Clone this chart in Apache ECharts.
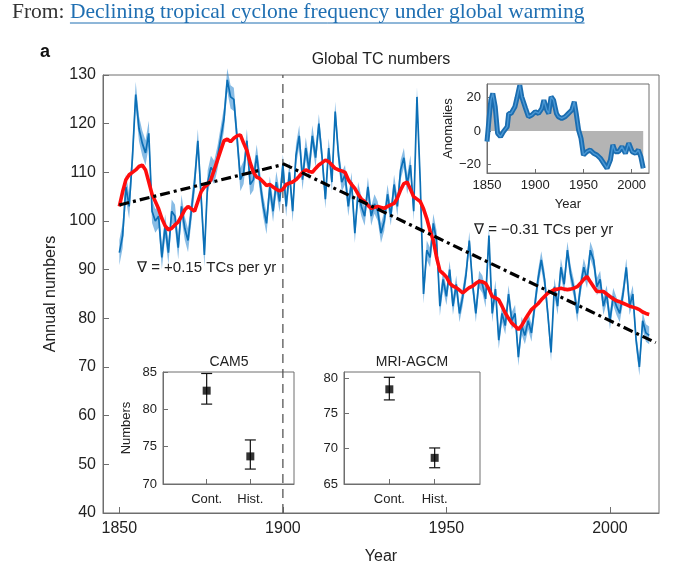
<!DOCTYPE html>
<html>
<head>
<meta charset="utf-8">
<script src="https://cdn.jsdelivr.net/npm/echarts@6/dist/echarts.min.js"></script>
<style>
html,body{margin:0;padding:0;background:#fff;}
#chart{width:680px;height:570px;}
</style>
</head>
<body>
<div id="chart"></div>
<script>
// ---------------- DATA ----------------
const startYear = 1850;
const tcAnnual = [
  93.5, 97, 107, 103, 113, 126, 119, 116, 114, 118,
  102, 100, 101, 92.5, 99, 93.5, 102, 101, 94.5, 103,
  98.5, 96, 102, 108, 116.5, 105, 93, 108, 111, 110,
  113, 117, 121, 129, 125.5, 125, 117, 108.5, 110, 116.5,
  107.5, 108.5, 113.5, 108, 103, 99.5, 107, 102, 108, 104,
  111.5, 103, 110, 102, 113.5, 117.5, 108.5, 115, 110.5, 117.5,
  113, 120, 113, 104.5, 115, 108, 122.5, 113.5, 108, 109.5,
  103, 108, 97.5, 106, 103, 101, 107, 101, 103.5, 102,
  97.5, 100, 105.5, 101, 107.5, 103, 110.5, 113, 107.5, 111.5,
  102, 125.5, 108, 85, 94, 92.5, 99.5, 96, 82.5, 88,
  84.5, 90, 82.5, 87, 81, 84.5, 89, 96, 87, 81,
  88, 87, 84, 97, 81, 86, 75.5, 81, 78.5, 85,
  79.5, 81, 72, 78.5, 76.5, 79.5, 77, 82.5, 88, 92,
  88, 81, 73, 86.5, 82.5, 90.5, 87, 94, 89, 86,
  81, 86.5, 90.5, 88, 94, 92, 86.5, 88, 82.5, 85,
  79.5, 84.5, 82.5, 81, 85, 90.5, 82.5, 85, 75.5, 70,
  79.5, 77, 76.5
];
const tcSmoothed = [
  103, 106, 108.5, 109.5, 110, 110.5, 111.2, 111.5, 110.5, 108,
  105.5, 104, 102.5, 100.5, 99, 98.2, 98.5, 99.2, 99.8, 101,
  102.3, 103, 102.5, 102, 104, 106, 107, 107.5, 108.5, 110.5,
  112.5, 114.5, 116.5, 116.8, 116.3, 117, 117.5, 117.7, 116, 114.5,
  112, 110, 109, 108.7, 108, 107.3, 107.5, 107, 106.5, 106.2,
  106.5, 107.5, 107.8, 108, 108.5, 109.2, 110, 110.5, 110.2, 110,
  110.8, 111.5, 112, 112.5, 112.2, 111.5, 110.8, 110.5, 110.3, 110,
  108.5, 107.5, 106.7, 105.5, 104.5, 104, 103.2, 102.6, 102.8, 103,
  102.8, 102.6, 103, 103.3, 103.6, 104.7, 106.4, 107.7, 108, 106.5,
  105, 104.5, 104, 102.5, 100.5, 98, 96, 92.5, 89.8, 89.2,
  88.5, 87.2, 86.6, 86.3, 85.8, 85.2, 85.8, 86.3, 86.6, 87.2,
  87.6, 87.5, 87.2, 86, 84.5, 84.2, 83.8, 82.5, 81.1, 80,
  79, 78.4, 77.7, 78.5, 79.7, 80.8, 81.8, 82.4, 83, 83.8,
  84.5, 85.2, 85.5, 85.9, 86, 86.2, 86, 85.9, 86, 86.2,
  86.5, 87.2, 88, 88.6, 87.5, 86.5, 85.5, 85.5, 85.5, 85,
  84.5, 84, 83.6, 83.4, 83.1, 82.8, 82.5, 82.3, 82.1, 81.8,
  81.3, 81, 80.8
];
// half width of the ensemble shading, read per decade (1850s ... 2010s)
const bandHalfWidthByDecade = [2.6, 2.4, 2.4, 2.4, 2.2, 2.2, 2.0, 2.0, 2.0, 2.0, 1.8, 1.8, 1.8, 1.8, 1.8, 1.8, 1.8];

const trendEarly = [[1850, 103.3], [1900, 111.6]];
const trendLate = [[1900, 111.8], [2014, 75.0]];
const dividerYear = 1900;
const slopeTexts = ['\u2207 = +0.15 TCs per yr', '\u2207 = \u22120.31 TCs per yr'];

const mainXTicks = [1850, 1900, 1950, 2000];
const mainYRange = [40, 130];

const anomYears = [1850, 1852, 1854, 1856, 1858.5, 1861, 1864, 1867, 1871, 1872.5,
  1875, 1877, 1879, 1881, 1884, 1886, 1890, 1893, 1896.5, 1900,
  1903.5, 1907, 1909, 1912, 1914, 1916.5, 1919, 1922, 1924, 1927.5,
  1931, 1934.5, 1938, 1940.5, 1942.5, 1945, 1947.5, 1950, 1953.5, 1957,
  1960.5, 1964, 1967.5, 1971, 1974.5, 1978, 1980.5, 1983, 1986.5, 1990,
  1993.5, 1997, 2000.5, 2004, 2007, 2009.5, 2012];
const anomValues = [-6.3, 6.5, 18.4, 22.4, 14.5, -1.4, -3.4, -0.4, 2.6, 10.5,
  10.5, 12.5, 14.5, 19.4, 27.3, 20.4, 13.5, 8.5, 9.5, 11.5,
  10.5, 13.5, 18.4, 12.5, 10.5, 20.4, 18.4, 10.5, 8.5, 7.5,
  8.5, 10.5, 12.5, 17.4, 10.5, 0.6, -4.4, -14.3, -12.3, -11.3,
  -13.3, -14.3, -16.2, -19.2, -22.2, -17.2, -8.3, -12.3, -12.3, -9.3,
  -13.3, -7.3, -12.3, -13.3, -11.3, -15.2, -22.2];
const anomYTicks = [-20, 0, 20];

const groupLabels = ['Cont.', 'Hist.'];
const groupPos = [1, 2];
const cam5Mean = [82.5, 73.7];
const cam5Low = [80.7, 72.0];
const cam5High = [84.8, 75.9];
const mriMean = [78.4, 68.7];
const mriLow = [76.9, 67.3];
const mriHigh = [80.1, 70.1];

// ---------------- BUILD ----------------
const years = tcAnnual.map((_, i) => startYear + i);
const hw = years.map(y => bandHalfWidthByDecade[Math.floor((y - startYear) / 10)]);
const annualPts = years.map((y, i) => [y, tcAnnual[i]]);
const smoothPts = years.map((y, i) => [y, tcSmoothed[i]]);
const anomPts = anomYears.map((y, i) => [y, anomValues[i]]);

const FONT = '"Liberation Sans", Arial, Helvetica, sans-serif';
const AX = '#6e6e6e';
const TXT = '#222';
const fmtNum = v => String(v).replace('-', '\u2212');

function errRender(params, api) {
  const x = api.value(0), lo = api.value(1), hi = api.value(2);
  const pHi = api.coord([x, hi]), pLo = api.coord([x, lo]);
  const w = 5.5;
  const st = { stroke: '#111', lineWidth: 1.2 };
  return {
    type: 'group',
    children: [
      { type: 'line', shape: { x1: pHi[0], y1: pHi[1], x2: pLo[0], y2: pLo[1] }, style: st },
      { type: 'line', shape: { x1: pHi[0] - w, y1: pHi[1], x2: pHi[0] + w, y2: pHi[1] }, style: st },
      { type: 'line', shape: { x1: pLo[0] - w, y1: pLo[1], x2: pLo[0] + w, y2: pLo[1] }, style: st }
    ]
  };
}

function bandRender(params, api) {
  const pts = [];
  for (let i = 0; i < years.length; i++) pts.push(api.coord([years[i], tcAnnual[i] + hw[i]]));
  for (let i = years.length - 1; i >= 0; i--) pts.push(api.coord([years[i], tcAnnual[i] - hw[i]]));
  return { type: 'polygon', shape: { points: pts }, style: { fill: 'rgba(38,133,208,0.55)' } };
}

function insetX(gridIndex) {
  return {
    type: 'value', gridIndex: gridIndex, min: 0, max: 3,
    axisLine: { show: true, onZero: false, lineStyle: { color: AX } },
    axisTick: { show: true, inside: true, length: 5, customValues: groupPos, lineStyle: { color: AX } },
    axisLabel: { customValues: groupPos, formatter: v => groupLabels[groupPos.indexOf(v)], color: TXT, fontFamily: FONT, fontSize: 13, margin: 9 },
    splitLine: { show: false }
  };
}
function insetY(gridIndex, min, max, ticks, name) {
  const o = {
    type: 'value', gridIndex: gridIndex, min: min, max: max,
    axisLine: { show: true, onZero: false, lineStyle: { color: AX } },
    axisTick: { show: true, inside: true, length: 5, customValues: ticks, lineStyle: { color: AX } },
    axisLabel: { customValues: ticks, formatter: fmtNum, color: TXT, fontFamily: FONT, fontSize: 13, margin: 6 },
    splitLine: { show: false }
  };
  if (name) {
    o.name = name; o.nameLocation = 'middle'; o.nameGap = 30;
    o.nameTextStyle = { color: TXT, fontFamily: FONT, fontSize: 13 };
  }
  return o;
}

// measure header widths for the underline
const mctx = document.createElement('canvas').getContext('2d');
const headFont = '21.5px "Liberation Serif", "DejaVu Serif", serif';
mctx.font = headFont;
const fromText = 'From: ';
const linkText = 'Declining tropical cyclone frequency under global warming';
const fromW = mctx.measureText(fromText).width;
const linkW = mctx.measureText(linkText).width;
const headX = 12;

const chart = echarts.init(document.getElementById('chart'), null, { renderer: 'canvas' });
const option = {
  backgroundColor: '#fff',
  animation: false,
  grid: [
    { left: 103, top: 75, width: 556, height: 438, show: true, borderColor: AX, borderWidth: 1, backgroundColor: 'transparent' },
    { left: 487, top: 84, width: 162, height: 89, show: true, borderColor: AX, borderWidth: 1, backgroundColor: '#fff' },
    { left: 163, top: 372, width: 131, height: 112, show: true, borderColor: AX, borderWidth: 1, backgroundColor: 'transparent' },
    { left: 344, top: 372, width: 136, height: 112, show: true, borderColor: AX, borderWidth: 1, backgroundColor: 'transparent' }
  ],
  xAxis: [
    {
      type: 'value', gridIndex: 0, min: 1845, max: 2015,
      axisLine: { show: true, onZero: false, lineStyle: { color: AX } },
      axisTick: { show: true, inside: true, length: 6, customValues: mainXTicks, lineStyle: { color: AX } },
      axisLabel: { customValues: mainXTicks, formatter: fmtNum, color: TXT, fontFamily: FONT, fontSize: 16, margin: 8 },
      splitLine: { show: false },
      name: 'Year', nameLocation: 'middle', nameGap: 36,
      nameTextStyle: { color: TXT, fontFamily: FONT, fontSize: 16 }
    },
    {
      type: 'value', gridIndex: 1, min: 1850, max: 2018,
      axisLine: { show: true, onZero: false, lineStyle: { color: AX } },
      axisTick: { show: true, inside: true, length: 4, customValues: mainXTicks, lineStyle: { color: AX } },
      axisLabel: { customValues: mainXTicks, formatter: fmtNum, color: TXT, fontFamily: FONT, fontSize: 13, margin: 6 },
      splitLine: { show: false },
      name: 'Year', nameLocation: 'middle', nameGap: 25,
      nameTextStyle: { color: TXT, fontFamily: FONT, fontSize: 13 }
    },
    insetX(2),
    insetX(3)
  ],
  yAxis: [
    {
      type: 'value', gridIndex: 0, min: mainYRange[0], max: mainYRange[1], interval: 10,
      axisLine: { show: true, onZero: false, lineStyle: { color: AX } },
      axisTick: { show: true, inside: true, length: 6, lineStyle: { color: AX } },
      axisLabel: { formatter: fmtNum, color: TXT, fontFamily: FONT, fontSize: 16, margin: 7 },
      splitLine: { show: false },
      name: 'Annual numbers', nameLocation: 'middle', nameGap: 44,
      nameTextStyle: { color: TXT, fontFamily: FONT, fontSize: 16 }
    },
    (function () {
      const o = insetY(1, -25, 28, anomYTicks, 'Anomalies');
      o.nameGap = 32;
      o.axisTick.length = 4;
      return o;
    })(),
    insetY(2, 70, 85, [70, 75, 80, 85], 'Numbers'),
    insetY(3, 65, 80.85, [65, 70, 75, 80], null)
  ],
  series: [
    {
      type: 'line', xAxisIndex: 0, yAxisIndex: 0, data: [[dividerYear, mainYRange[0]], [dividerYear, mainYRange[1]]],
      symbol: 'none', silent: true,
      lineStyle: { color: '#555', width: 1.3, type: [9, 6] }
    },
    {
      type: 'line', xAxisIndex: 0, yAxisIndex: 0, data: annualPts, symbol: 'none',
      lineStyle: { color: '#0b6fb6', width: 1.7 }
    },
    {
      type: 'line', xAxisIndex: 0, yAxisIndex: 0, data: smoothPts, symbol: 'none',
      lineStyle: { color: '#ff0d0d', width: 3.6 }
    },
    {
      type: 'custom', xAxisIndex: 0, yAxisIndex: 0, renderItem: bandRender, silent: true,
      data: [[startYear, tcAnnual[0]]]
    },
    {
      type: 'line', xAxisIndex: 0, yAxisIndex: 0, data: trendEarly, symbol: 'none',
      lineStyle: { color: '#000', width: 3.2, type: [10, 4, 3, 4] }
    },
    {
      type: 'line', xAxisIndex: 0, yAxisIndex: 0, data: trendLate, symbol: 'none',
      lineStyle: { color: '#000', width: 3.2, type: [10, 4, 3, 4] }
    },
    // inset anomalies
    {
      type: 'line', xAxisIndex: 1, yAxisIndex: 1, data: anomPts, symbol: 'none',
      lineStyle: { width: 0, opacity: 0 },
      areaStyle: { color: '#b4b4b4', opacity: 1 }
    },
    {
      type: 'line', xAxisIndex: 1, yAxisIndex: 1, data: anomPts, symbol: 'none',
      lineStyle: { color: '#1b6db0', width: 5 }
    },
    {
      type: 'line', xAxisIndex: 1, yAxisIndex: 1, data: anomPts, symbol: 'none',
      lineStyle: { color: '#4a97d4', width: 1.4 }
    },
    // CAM5
    {
      type: 'custom', xAxisIndex: 2, yAxisIndex: 2, renderItem: errRender,
      encode: { x: 0, y: [1, 2] },
      data: groupPos.map((p, i) => [p, cam5Low[i], cam5High[i]])
    },
    {
      type: 'scatter', xAxisIndex: 2, yAxisIndex: 2, symbol: 'rect', symbolSize: 8,
      itemStyle: { color: '#000' }, data: groupPos.map((p, i) => [p, cam5Mean[i]])
    },
    // MRI
    {
      type: 'custom', xAxisIndex: 3, yAxisIndex: 3, renderItem: errRender,
      encode: { x: 0, y: [1, 2] },
      data: groupPos.map((p, i) => [p, mriLow[i], mriHigh[i]])
    },
    {
      type: 'scatter', xAxisIndex: 3, yAxisIndex: 3, symbol: 'rect', symbolSize: 8,
      itemStyle: { color: '#000' }, data: groupPos.map((p, i) => [p, mriMean[i]])
    }
  ],
  graphic: [
    { type: 'text', x: headX, y: 12, style: { text: fromText, font: headFont, fill: '#333', verticalAlign: 'middle' } },
    { type: 'text', x: headX + fromW, y: 12, style: { text: linkText, font: headFont, fill: '#1f6fb2', verticalAlign: 'middle' } },
    { type: 'line', shape: { x1: headX + fromW, y1: 23, x2: headX + fromW + linkW, y2: 23 }, style: { stroke: '#1f6fb2', lineWidth: 1 } },
    { type: 'text', x: 40, y: 52, style: { text: 'a', font: 'bold 18px ' + FONT, fill: '#111', verticalAlign: 'middle' } },
    { type: 'text', x: 381, y: 60, style: { text: 'Global TC numbers', font: '16px ' + FONT, fill: TXT, align: 'center', verticalAlign: 'middle' } },
    { type: 'text', x: 137, y: 268, style: { text: slopeTexts[0], font: '15px ' + FONT, fill: TXT, verticalAlign: 'middle' } },
    { type: 'text', x: 474, y: 230, style: { text: slopeTexts[1], font: '15px ' + FONT, fill: TXT, verticalAlign: 'middle' } },
    { type: 'text', x: 229, y: 362, style: { text: 'CAM5', font: '14px ' + FONT, fill: TXT, align: 'center', verticalAlign: 'middle' } },
    { type: 'text', x: 412, y: 362, style: { text: 'MRI-AGCM', font: '14px ' + FONT, fill: TXT, align: 'center', verticalAlign: 'middle' } }
  ]
};
chart.setOption(option);
</script>
</body>
</html>
